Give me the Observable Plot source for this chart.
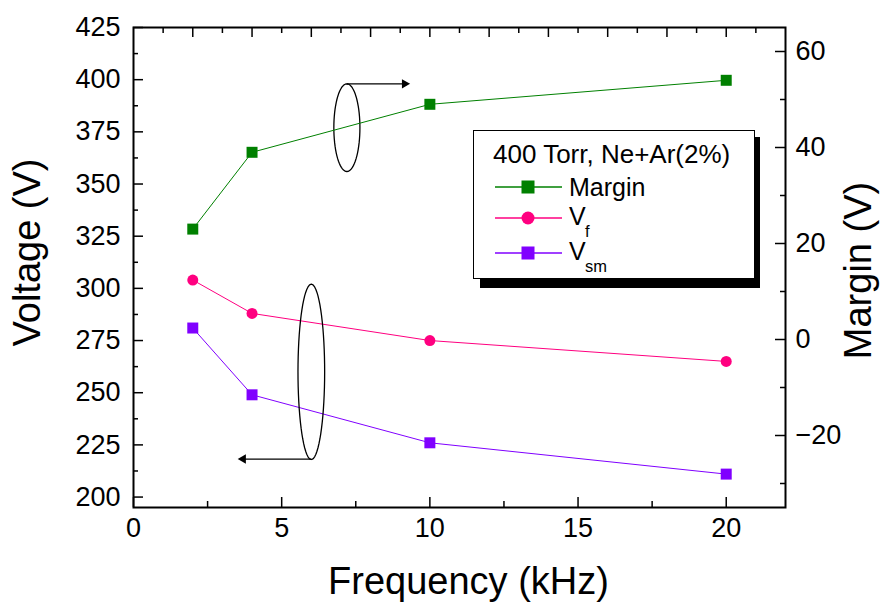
<!DOCTYPE html>
<html><head><meta charset="utf-8">
<script src="https://cdn.jsdelivr.net/npm/d3@7"></script>
<script src="https://cdn.jsdelivr.net/npm/@observablehq/plot@0.6"></script>
<style>
html,body{margin:0;padding:0;background:#fff;}
#chart{position:relative;width:883px;height:606px;}
#chart > svg, #chart > figure{position:absolute;left:0;top:0;margin:0;}
#chart svg, #chart svg text{font-family:"Liberation Sans", Arial, sans-serif !important;}
</style></head><body><div id="chart"></div>
<script>
// ---- data ----
const frequency = [2, 4, 10, 20];
const vf = [304, 288, 275, 265];
const vsm = [281, 249, 226, 211];
const marginV = [23, 39, 49, 54];

const xTicks = [0, 5, 10, 15, 20];
const xMinor = [2.5, 7.5, 12.5, 17.5];
const topMajor = [2, 4, 6, 8, 10, 12, 14, 16, 18, 20];
const topMinor = [1, 3, 5, 7, 9, 11, 13, 15, 17, 19, 21];
const leftTicks = [200, 225, 250, 275, 300, 325, 350, 375, 400, 425];
const leftMinor = [212.5, 237.5, 262.5, 287.5, 312.5, 337.5, 362.5, 387.5, 412.5];
const rightTicks = [-20, 0, 20, 40, 60];
const rightMinor = [-30, -10, 10, 30, 50];

const legendTitle = "400 Torr, Ne+Ar(2%)";
const seriesNames = ["Margin", "V", "V"];
const seriesSubs = [null, "f", "sm"];
const seriesColors = ["#008000", "#ff0080", "#8000ff"];
const seriesSymbols = ["square", "circle", "square"];

// annotation ellipses (data units, left axis) and arrows
const ellipses = [
  {cx: 7.2, cy: 377, rx: 0.44, ry: 21},
  {cx: 6.0, cy: 260, rx: 0.45, ry: 42}
];
const arrows = [
  {x1: 7.2, y1: 398, x2: 9.15, y2: 398},
  {x1: 6.0, y1: 218.2, x2: 3.7, y2: 218.2}
];

// ---- layout ----
const W = 883, H = 606, mL = 133, mR = 98, mT = 27, mB = 99;
const plotW = W - mL - mR, plotH = H - mT - mB;
const font = '"Liberation Sans", Arial, sans-serif';

const rows = frequency.map((f, i) => ({f, vf: vf[i], vsm: vsm[i], margin: marginV[i]}));

const ellipsePts = [];
ellipses.forEach((e, k) => {
  for (let i = 0; i <= 72; i++) {
    const t = i / 72 * 2 * Math.PI;
    ellipsePts.push({k, x: e.cx + e.rx * Math.cos(t), y: e.cy + e.ry * Math.sin(t)});
  }
});

const common = {width: W, height: H, marginLeft: mL, marginRight: mR, marginTop: mT, marginBottom: mB,
  style: {fontFamily: font, background: "transparent", color: "#000", overflow: "visible"}};

const p1 = Plot.plot({
  ...common,
  x: {domain: [0, 22], axis: null},
  y: {domain: [195, 425], axis: null},
  marks: [
    Plot.axisX({ticks: xTicks, anchor: "bottom", tickSize: 0, tickPadding: 10, fontSize: 27, label: null}),
    Plot.axisY({ticks: leftTicks, anchor: "left", tickSize: 0, tickPadding: 13, fontSize: 27, label: null}),
    Plot.tickX(xTicks, {x: d => d, insetTop: plotH - 10, stroke: "#000", strokeWidth: 1.5}),
    Plot.tickX(xMinor, {x: d => d, insetTop: plotH - 6, stroke: "#000", strokeWidth: 1.5}),
    Plot.tickX(topMajor, {x: d => d, insetBottom: plotH - 10, stroke: "#000", strokeWidth: 1.5}),
    Plot.tickX(topMinor, {x: d => d, insetBottom: plotH - 6, stroke: "#000", strokeWidth: 1.5}),
    Plot.tickY(leftTicks, {y: d => d, insetRight: plotW - 10, stroke: "#000", strokeWidth: 1.5}),
    Plot.tickY(leftMinor, {y: d => d, insetRight: plotW - 5, stroke: "#000", strokeWidth: 1.5}),
    Plot.frame({stroke: "#000", strokeWidth: 2}),
    Plot.line(rows, {x: "f", y: "vf", stroke: seriesColors[1], strokeWidth: 1}),
    Plot.line(rows, {x: "f", y: "vsm", stroke: seriesColors[2], strokeWidth: 1}),
    Plot.dot(rows, {x: "f", y: "vf", fill: seriesColors[1], r: 5.5, symbol: "circle"}),
    Plot.dot(rows, {x: "f", y: "vsm", fill: seriesColors[2], r: 6.2, symbol: "square"}),
    Plot.line(ellipsePts, {x: "x", y: "y", z: "k", stroke: "#000", strokeWidth: 1.3}),
    Plot.link(arrows, {x1: "x1", y1: "y1", x2: "x2", y2: "y2", stroke: "#000", strokeWidth: 1.3}),
    Plot.dot(arrows, {x: "x2", y: "y2", symbol: "triangle", r: 3.5, fill: "#000",
      rotate: d => d.x2 > d.x1 ? 90 : -90}),
    Plot.text(["Voltage (V)"], {frameAnchor: "left", text: d => d, rotate: -90, dx: -94, dy: -15,
      fontSize: 38, lineAnchor: "bottom", textAnchor: "middle"}),
    Plot.text(["Frequency (kHz)"], {frameAnchor: "bottom", text: d => d, dx: 9, dy: 86,
      fontSize: 38, lineAnchor: "bottom", textAnchor: "middle"})
  ]
});

const p2 = Plot.plot({
  ...common,
  x: {domain: [0, 22], axis: null},
  y: {domain: [-35, 65], axis: null},
  marks: [
    Plot.axisY({ticks: rightTicks, anchor: "right", tickSize: 0, tickPadding: 10, fontSize: 27, label: null}),
    Plot.tickY(rightTicks, {y: d => d, insetLeft: plotW - 10, stroke: "#000", strokeWidth: 1.5}),
    Plot.tickY(rightMinor, {y: d => d, insetLeft: plotW - 5, stroke: "#000", strokeWidth: 1.5}),
    Plot.line(rows, {x: "f", y: "margin", stroke: seriesColors[0], strokeWidth: 1}),
    Plot.dot(rows, {x: "f", y: "margin", fill: seriesColors[0], r: 6.2, symbol: "square"}),
    Plot.text(["Margin (V)"], {frameAnchor: "right", text: d => d, rotate: -90, dx: 85, dy: 3,
      fontSize: 38, lineAnchor: "bottom", textAnchor: "middle"})
  ]
});

const chart = document.getElementById("chart");
chart.appendChild(p1);
chart.appendChild(p2);

// ---- legend ----
const svg = d3.create("svg").attr("width", W).attr("height", H)
  .style("font-family", font).style("pointer-events", "none");
svg.append("rect").attr("x", 480).attr("y", 137).attr("width", 280).attr("height", 151).attr("fill", "#000");
svg.append("rect").attr("x", 473.5).attr("y", 130.5).attr("width", 281).attr("height", 148)
  .attr("fill", "#fff").attr("stroke", "#000").attr("stroke-width", 1);
svg.append("text").attr("x", 493).attr("y", 163).attr("font-size", 26).text(legendTitle);
const rowY = [187, 218, 253];
seriesNames.forEach((name, i) => {
  const y = rowY[i], c = seriesColors[i];
  svg.append("line").attr("x1", 495).attr("x2", 562).attr("y1", y).attr("y2", y)
    .attr("stroke", c).attr("stroke-width", 1.3);
  if (seriesSymbols[i] === "circle") {
    svg.append("circle").attr("cx", 528).attr("cy", y).attr("r", 6.5).attr("fill", c);
  } else {
    svg.append("rect").attr("x", 521.5).attr("y", y - 6.5).attr("width", 13).attr("height", 13).attr("fill", c);
  }
  svg.append("text").attr("x", 569).attr("y", y + (seriesSubs[i] ? 7 : 9)).attr("font-size", 25).text(name);
  if (seriesSubs[i]) {
    svg.append("text").attr("x", 585).attr("y", y + 19)
      .attr("font-size", 16.5).text(seriesSubs[i]);
  }
});
chart.appendChild(svg.node());
</script></body></html>
